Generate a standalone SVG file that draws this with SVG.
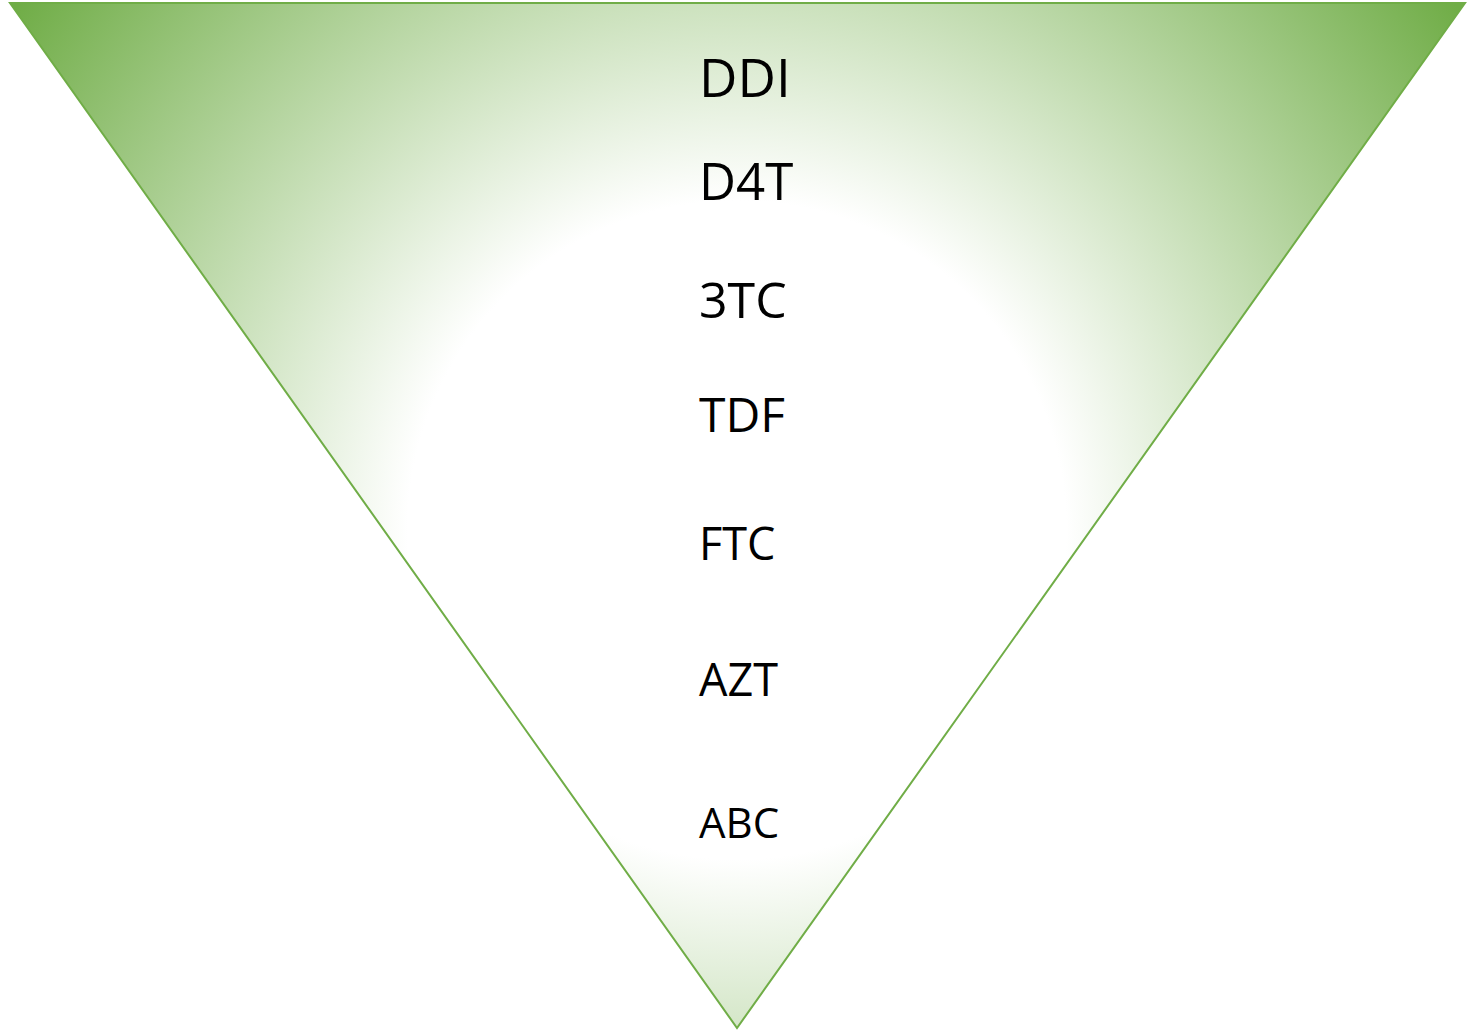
<svg xmlns="http://www.w3.org/2000/svg" width="1483" height="1030" viewBox="0 0 1483 1030">
<style>
.lbl{font-family:"Open Sans","Noto Sans","Liberation Sans",sans-serif;fill:#000}
</style>
<defs>
<radialGradient id="g" gradientUnits="userSpaceOnUse" cx="737" cy="530" r="890">
<stop offset="0" stop-color="#ffffff"/>
<stop offset="0.37" stop-color="#ffffff"/>
<stop offset="1" stop-color="#70AD47"/>
</radialGradient>
</defs>
<rect width="1483" height="1030" fill="#ffffff"/>
<g id="triangle">
<polygon points="10,3 1465,3 737,1028" fill="url(#g)" stroke="#70AD47" stroke-width="2" stroke-linejoin="miter"/>
</g>
<g id="labels">
<g id="n-ddi"><text class="lbl" x="699" y="97" font-size="53">DDI</text></g>
<g id="n-d4t"><text class="lbl" x="699" y="200" font-size="51">D4T</text></g>
<g id="n-3tc"><text class="lbl" x="699" y="318" font-size="50">3TC</text></g>
<g id="n-tdf"><text class="lbl" x="699" y="432" font-size="48">TDF</text></g>
<g id="n-ftc"><text class="lbl" x="699" y="560" font-size="45">FTC</text></g>
<g id="n-azt"><text class="lbl" x="699" y="696" font-size="45">AZT</text></g>
<g id="n-abc"><text class="lbl" x="699" y="838" font-size="42">ABC</text></g>
</g>
<g id="connectors"/>
</svg>
